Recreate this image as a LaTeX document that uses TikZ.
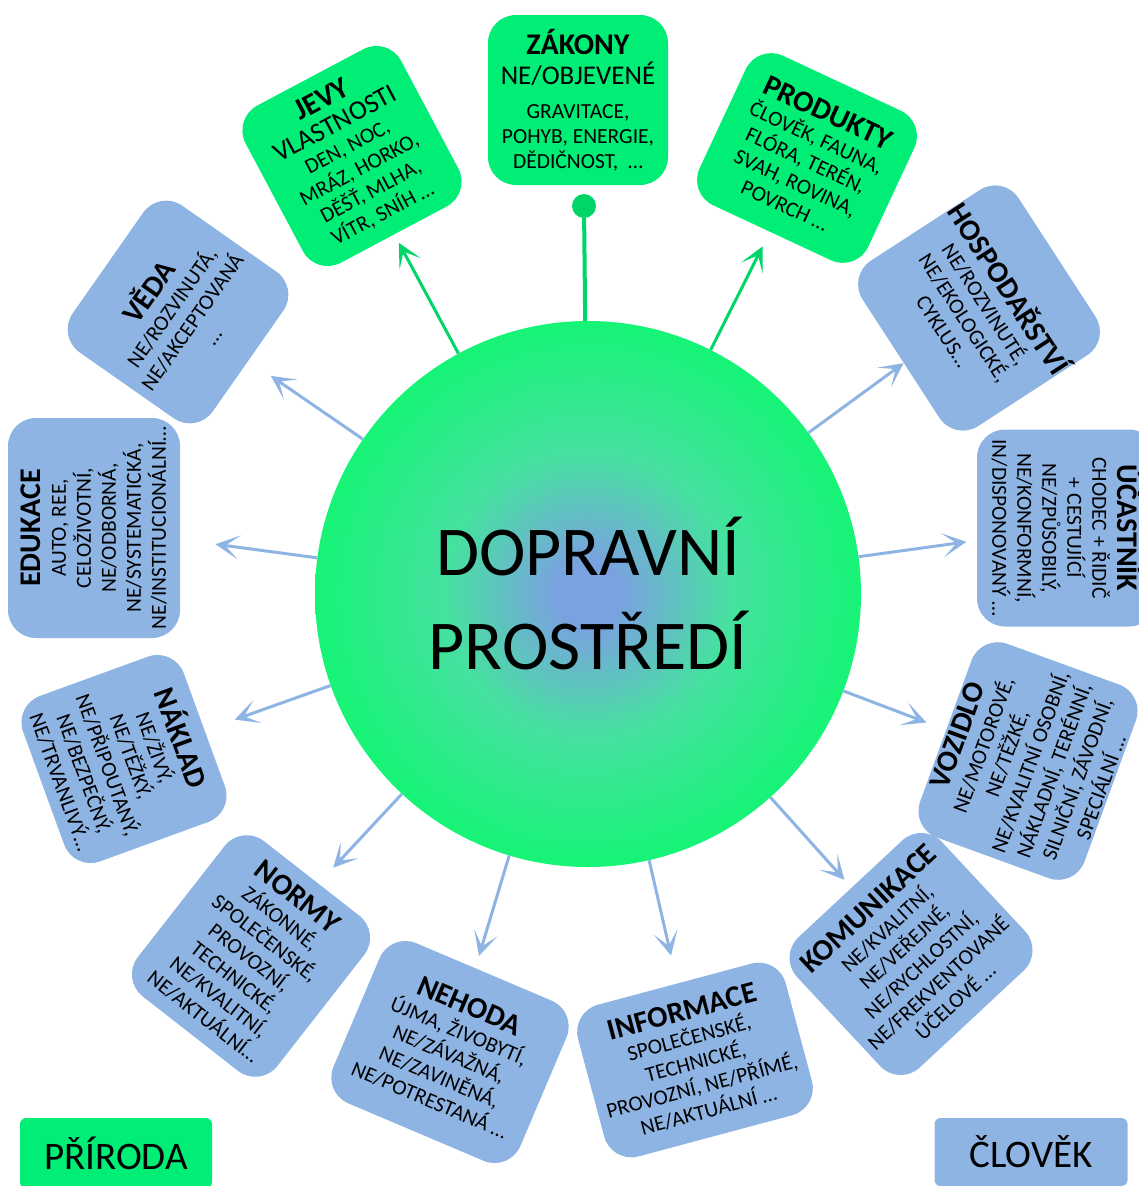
\documentclass[tikz,border=0pt]{standalone}
\usepackage{fontspec}
\setmainfont{Carlito}
\usetikzlibrary{arrows.meta,calc}
\definecolor{cgreen}{RGB}{0,238,118}
\definecolor{cgdark}{RGB}{0,214,104}
\definecolor{cblue}{RGB}{142,180,227}
\definecolor{ccore}{RGB}{122,162,224}
\definecolor{cmid}{RGB}{70,225,160}
\definecolor{cedge}{RGB}{22,244,118}
\pgfdeclareradialshading{dpshade}{\pgfpoint{0bp}{0bp}}{color(0bp)=(ccore); color(3bp)=(ccore); color(13bp)=(cmid); color(25bp)=(cedge); color(50bp)=(cedge)}
\newcommand\fsz[2]{\fontsize{#1}{#2}\selectfont}
\newcommand\ttl{\fsz{30}{34}\bfseries}
\begin{document}
\begin{tikzpicture}[x=1pt,y=1pt,
  panel/.style={rounded corners=28pt, align=center, inner sep=0pt, font=\fsz{21.5}{25}},
  greenpanel/.style={panel, fill=cgreen},
  bluepanel/.style={panel, fill=cblue},
  bluearrow/.style={draw=cblue, line width=3pt, -{Stealth[length=24pt,width=24pt,inset=14pt]}},
  greenarrow/.style={draw=cgdark, line width=3pt, -{Stealth[length=24pt,width=24pt,inset=14pt]}},
  legend/.style={rounded corners=6pt, inner sep=0pt, font=\fsz{39}{44}}]
\useasboundingbox (0,0) rectangle (1139,-1186);

% centre
\node[circle, minimum size=546pt, inner sep=0pt, shade, shading=dpshade, align=center, font=\fsz{70}{94}] (circ) at (588,-594) {DOPRAVNÍ\\PROSTŘEDÍ};

% green panels
\node[greenpanel, minimum width=180pt, minimum height=170pt] (zakony) at (578,-100)
  {{\ttl ZÁKONY}\\[5pt]{\fsz{27}{30}NE/OBJEVENÉ}\\[9pt]GRAVITACE,\\POHYB, ENERGIE,\\DĚDIČNOST,~ …};
\node[greenpanel, minimum width=176pt, minimum height=178pt, rotate=28] (jevy) at (352,-156)
  {{\ttl JEVY}\\[2pt]{\fsz{27}{29}VLASTNOSTI}\\DEN, NOC,\\MRÁZ, HORKO,\\DĚŠŤ, MLHA,\\VÍTR, SNÍH …};
\node[greenpanel, minimum width=186pt, minimum height=165pt, rotate=-25] (produkty) at (807,-158)
  {{\ttl PRODUKTY}\\ČLOVĚK, FAUNA,\\FLÓRA, TERÉN,\\SVAH, ROVINA,\\POVRCH …};

% blue panels
\node[bluepanel, minimum width=190pt, minimum height=186pt, rotate=-57] (hosp) at (979,-308)
  {{\ttl HOSPODAŘSTVÍ}\\NE/ROZVINUTÉ,\\NE/EKOLOGICKÉ,\\CYKLUS…};
\node[bluepanel, minimum width=197pt, minimum height=180pt, rotate=-90] (ucast) at (1067,-528)
  {{\ttl ÚČASTNÍK}\\CHODEC + ŘIDIČ\\+ CESTUJÍCÍ\\NE/ZPŮSOBILÝ,\\NE/KONFORMNÍ,\\IN/DISPONOVANÝ …};
\node[bluepanel, minimum width=206pt, minimum height=175pt, rotate=70] (vozidlo) at (1028,-761)
  {{\ttl VOZIDLO}\\NE/MOTOROVÉ,\\NE/TĚŽKÉ,\\NE/KVALITNÍ OSOBNÍ,\\NÁKLADNÍ, TERÉNNÍ,\\SILNIČNÍ, ZÁVODNÍ,\\SPECIÁLNÍ …};
\node[bluepanel, minimum width=198pt, minimum height=178pt, rotate=43] (komun) at (911,-954)
  {{\ttl KOMUNIKACE}\\NE/KVALITNÍ,\\NE/VEŘEJNÉ,\\NE/RYCHLOSTNÍ,\\NE/FREKVENTOVANÉ\\ÚČELOVÉ …};
\node[bluepanel, minimum width=215pt, minimum height=157pt, rotate=15] (info) at (695,-1060)
  {{\ttl INFORMACE}\\SPOLEČENSKÉ,\\TECHNICKÉ,\\PROVOZNÍ, NE/PŘÍMÉ,\\NE/AKTUÁLNÍ …};
\node[bluepanel, minimum width=203pt, minimum height=174pt, rotate=-23] (nehoda) at (450,-1052)
  {{\ttl NEHODA}\\ÚJMA, ŽIVOBYTÍ,\\NE/ZÁVAŽNÁ,\\NE/ZAVINĚNÁ,\\NE/POTRESTANÁ …};
\node[bluepanel, minimum width=177pt, minimum height=197pt, rotate=-38] (normy) at (251,-956)
  {{\ttl NORMY}\\ZÁKONNÉ,\\SPOLEČENSKÉ,\\PROVOZNÍ,\\TECHNICKÉ,\\NE/KVALITNÍ,\\NE/AKTUÁLNÍ…};
\node[bluepanel, minimum width=176pt, minimum height=171pt, rotate=-70] (naklad) at (124,-759)
  {{\ttl NÁKLAD}\\NE/ŽIVÝ,\\NE/TĚŽKÝ,\\NE/PŘIPOUTANÝ,\\NE/BEZPEČNÝ,\\NE/TRVANLIVÝ…};
\node[bluepanel, minimum width=220pt, minimum height=172pt, rotate=90] (edukace) at (94,-528)
  {{\ttl EDUKACE}\\AUTO, REE,\\CELOŽIVOTNÍ,\\NE/ODBORNÁ,\\NE/SYSTEMATICKÁ,\\NE/INSTITUCIONÁLNÍ…};
\node[bluepanel, minimum width=179pt, minimum height=171pt, rotate=55] (veda) at (178,-312)
  {{\ttl VĚDA}\\NE/ROZVINUTÁ,\\NE/AKCEPTOVANÁ\\…};

% connector to ZÁKONY
\node[circle, fill=cgdark, minimum size=24pt, inner sep=0pt] (dot) at (584,-206) {};
\draw[draw=cgdark, line width=4pt] (circ) -- (dot);

% arrow tips
\coordinate (tjevy) at ($(circ.center)!399pt!(jevy.center)$);
\coordinate (tprod) at ($(circ.center)!389pt!(produkty.center)$);
\coordinate (thosp) at ($(circ.center)!391pt!(hosp.center)$);
\coordinate (tucast) at ($(circ.center)!382pt!(ucast.center)$);
\coordinate (tvoz) at ($(circ.center)!362pt!(vozidlo.center)$);
\coordinate (tkom) at ($(circ.center)!384pt!(komun.center)$);
\coordinate (tinfo) at ($(circ.center)!371pt!(info.center)$);
\coordinate (tneh) at ($(circ.center)!378pt!(nehoda.center)$);
\coordinate (tnorm) at ($(circ.center)!374pt!(normy.center)$);
\coordinate (tnak) at ($(circ.center)!375pt!(naklad.center)$);
\coordinate (tedu) at ($(circ.center)!376pt!(edukace.center)$);
\coordinate (tveda) at ($(circ.center)!385pt!(veda.center)$);

\draw[greenarrow] (circ) -- (tjevy);
\draw[greenarrow] (circ) -- (tprod);
\draw[bluearrow] (circ) -- (thosp);
\draw[bluearrow] (circ) -- (tucast);
\draw[bluearrow] (circ) -- (tvoz);
\draw[bluearrow] (circ) -- (tkom);
\draw[bluearrow] (circ) -- (tinfo);
\draw[bluearrow] (circ) -- (tneh);
\draw[bluearrow] (circ) -- (tnorm);
\draw[bluearrow] (circ) -- (tnak);
\draw[bluearrow] (circ) -- (tedu);
\draw[bluearrow] (circ) -- (tveda);

% legend
\node[legend, fill=cgreen, minimum width=192pt, minimum height=70pt] (lgp) at (116,-1153) {PŘÍRODA};
\node[legend, fill=cblue, minimum width=193pt, minimum height=68pt] (lgc) at (1031,-1152) {ČLOVĚK};
\end{tikzpicture}
\end{document}
